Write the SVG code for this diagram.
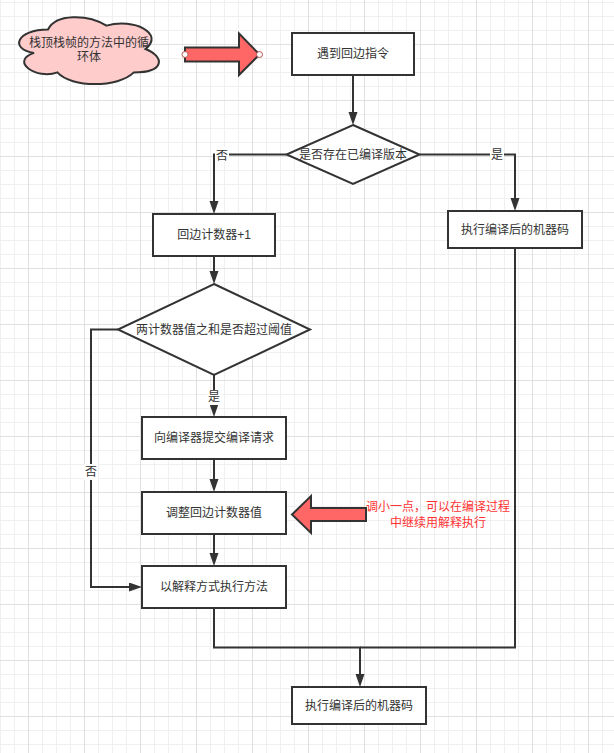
<svg xmlns="http://www.w3.org/2000/svg" width="614" height="753" viewBox="0 0 614 753">
  <defs>
    <pattern id="grid" patternUnits="userSpaceOnUse" x="0" y="2" width="56" height="56">
      <path d="M0.5,0V56M14.5,0V56M42.5,0V56M0,0.5H56M0,14.5H56M0,28.5H56" stroke="#f0f0f0" stroke-width="1" fill="none"/>
      <path d="M28.5,0V56M0,42.5H56" stroke="#e0e0e0" stroke-width="1" fill="none"/>
    </pattern>
    <marker id="arr" markerUnits="userSpaceOnUse" markerWidth="14" markerHeight="10" refX="5" refY="4.5" orient="auto">
      <path d="M0,0 L13,4.5 L0,9 z" fill="#333"/>
    </marker>
    <style>
      .box{fill:#fff;stroke:#333;stroke-width:2}
      .edge{fill:none;stroke:#333;stroke-width:2}
      .t{font-family:"Liberation Sans","Noto Sans CJK SC",sans-serif;font-size:12px;fill:#333;text-anchor:middle;dominant-baseline:central}
      .red{fill:#ff3333}
      .bigarrow{fill:#ff6666;stroke:#333;stroke-width:2;stroke-linejoin:miter}
      .lblbg{fill:#fff}
    </style>
  </defs>
  <rect width="614" height="753" fill="#fff"/>
  <rect width="614" height="753" fill="url(#grid)"/>

  <g id="connectors">
    <path class="edge" d="M353,75 V117" marker-end="url(#arr)"/>
    <path class="edge" d="M419.5,154.5 H515 V203" marker-end="url(#arr)"/>
    <path class="edge" d="M286.5,154.5 H214 V206" marker-end="url(#arr)"/>
    <path class="edge" d="M214,256 V276" marker-end="url(#arr)"/>
    <path class="edge" d="M214,375 V409" marker-end="url(#arr)"/>
    <path class="edge" d="M118,329.5 H91 V587 H134" marker-end="url(#arr)"/>
    <path class="edge" d="M214,459 V484" marker-end="url(#arr)"/>
    <path class="edge" d="M214,534 V558" marker-end="url(#arr)"/>
    <path class="edge" d="M214,608 V647.5 H360 V679" marker-end="url(#arr)"/>
    <path class="edge" d="M515,248 V647.5 H360"/>
    <g id="edge-labels">
      <rect class="lblbg" x="490" y="147" width="14" height="15"/>
      <text class="t" x="497" y="155">是</text>
      <rect class="lblbg" x="215" y="147" width="14" height="15"/>
      <text class="t" x="222" y="156">否</text>
      <rect class="lblbg" x="207" y="390" width="14" height="15"/>
      <text class="t" x="214" y="397">是</text>
      <rect class="lblbg" x="84" y="464" width="14" height="16"/>
      <text class="t" x="91" y="472">否</text>
    </g>
  </g>

  <g id="cloud">
    <path d="M48,29.5 C16.8,29.5 9,49 34,52.9 C9,61.5 37.1,80.2 57.4,72.4 C71.4,88 118.2,88 133.8,72.4 C165,72.4 165,56.8 145.5,49 C165,33.4 133.8,17.8 106.5,25.6 C87,13.9 55.8,13.9 48,29.5 Z" fill="#ffcccc" stroke="#333" stroke-width="2"/>
    <text class="t" x="89" y="43">栈顶栈帧的方法中的循</text>
    <text class="t" x="89" y="57">环体</text>
  </g>

  <g id="arrow-right">
    <path class="bigarrow" d="M185,47.5 H239 V33.5 L259.5,54.5 L239,75 V61.5 H185 Z"/>
    <circle cx="185" cy="54.5" r="3" fill="#fff" stroke="#b85450" stroke-width="1"/>
    <circle cx="259.5" cy="54.5" r="3" fill="#fff" stroke="#b85450" stroke-width="1"/>
  </g>

  <g id="node-start">
    <rect class="box" x="292" y="33" width="122" height="42"/>
    <text class="t" x="353" y="54">遇到回边指令</text>
  </g>

  <g id="node-check-compiled">
    <path class="box" d="M353,125 L419.5,154.5 L353,184 L286.5,154.5 Z"/>
    <text class="t" x="353" y="154.5">是否存在已编译版本</text>
  </g>

  <g id="node-exec-compiled-1">
    <rect class="box" x="448" y="211" width="134" height="37"/>
    <text class="t" x="515" y="229.5">执行编译后的机器码</text>
  </g>

  <g id="node-counter">
    <rect class="box" x="153" y="214" width="122" height="42"/>
    <text class="t" x="214" y="235">回边计数器+1</text>
  </g>

  <g id="node-threshold">
    <path class="box" d="M214,284 L310,329.5 L214,375 L118,329.5 Z"/>
    <text class="t" x="214" y="329.5">两计数器值之和是否超过阈值</text>
  </g>

  <g id="node-submit">
    <rect class="box" x="142" y="417" width="144" height="42"/>
    <text class="t" x="214" y="438">向编译器提交编译请求</text>
  </g>

  <g id="node-adjust">
    <rect class="box" x="142" y="492" width="144" height="42"/>
    <text class="t" x="214" y="513">调整回边计数器值</text>
  </g>

  <g id="node-interpret">
    <rect class="box" x="142" y="566" width="144" height="42"/>
    <text class="t" x="214" y="587">以解释方式执行方法</text>
  </g>

  <g id="node-exec-compiled-2">
    <rect class="box" x="292" y="687" width="134" height="37"/>
    <text class="t" x="359" y="705.5">执行编译后的机器码</text>
  </g>

  <g id="arrow-left">
    <path class="bigarrow" d="M366,508 H311 V496 L292,514.5 L311,533 V521 H366 Z"/>
  </g>

  <g id="note">
    <text class="t red" x="438" y="507">调小一点，可以在编译过程</text>
    <text class="t red" x="438" y="523">中继续用解释执行</text>
  </g>
</svg>
